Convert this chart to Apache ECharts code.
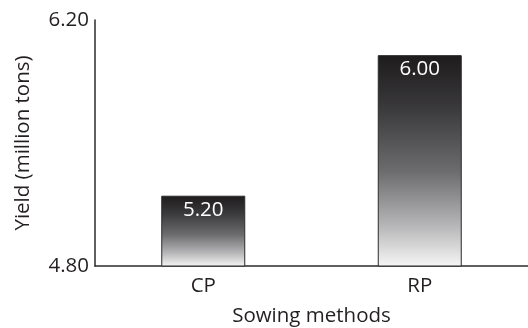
<!DOCTYPE html>
<html>
<head>
<meta charset="utf-8">
<script src="https://cdn.jsdelivr.net/npm/echarts@6/dist/echarts.min.js"></script>
<style>
  html, body { margin: 0; padding: 0; background: #fff; }
  #chart { width: 528px; height: 328px; }
</style>
</head>
<body>
<div id="chart"></div>
<script>
// Yield by sowing method
const categories = ['CP', 'RP'];
const yieldValues = [5.20, 6.00];
const yMin = 4.80;
const yMax = 6.20;

const FONT = '"Open Sans", sans-serif';
const INK = '#231f20';
const SIZE = 20.5;

const chart = echarts.init(document.getElementById('chart'), null, { renderer: 'canvas' });

const barFill = new echarts.graphic.LinearGradient(0, 0, 0, 1, [
  { offset: 0, color: '#1e1b1c' },
  { offset: 0.25, color: '#3a393b' },
  { offset: 0.55, color: '#6c6c6e' },
  { offset: 0.8, color: '#b4b4b6' },
  { offset: 1, color: '#f6f6f6' }
]);

chart.setOption({
  animation: false,
  backgroundColor: '#ffffff',
  grid: {
    left: 95, right: 0, top: 20, bottom: 62,
    containLabel: false,
    outerBoundsMode: 'none'
  },
  xAxis: {
    type: 'category',
    data: categories,
    name: 'Sowing methods',
    nameLocation: 'middle',
    nameGap: 40,
    nameTextStyle: { fontFamily: FONT, fontSize: SIZE, color: INK },
    axisLine: { show: true, lineStyle: { color: '#2b2b2b', width: 1.5 } },
    axisTick: { show: false },
    axisLabel: { fontFamily: FONT, fontSize: SIZE, color: INK, margin: 10 },
    splitLine: { show: false }
  },
  yAxis: {
    type: 'value',
    min: yMin,
    max: yMax,
    interval: yMax - yMin,
    name: 'Yield (million tons)',
    nameLocation: 'middle',
    nameRotate: 90,
    nameGap: 61,
    nameTextStyle: { fontFamily: FONT, fontSize: SIZE, color: INK },
    axisLine: { show: true, lineStyle: { color: '#2b2b2b', width: 1.5 } },
    axisTick: { show: false },
    axisLabel: {
      fontFamily: FONT, fontSize: SIZE, color: INK, margin: 6,
      showMinLabel: true, showMaxLabel: true,
      formatter: v => v.toFixed(2)
    },
    splitLine: { show: false }
  },
  series: [{
    type: 'bar',
    data: yieldValues,
    barWidth: 84,
    itemStyle: { color: barFill, borderColor: '#2b2b2b', borderWidth: 1 },
    label: {
      show: true,
      position: 'insideTop',
      distance: 4,
      fontFamily: FONT,
      fontSize: SIZE,
      color: '#ffffff',
      formatter: p => p.value.toFixed(2)
    }
  }]
});
</script>
</body>
</html>
